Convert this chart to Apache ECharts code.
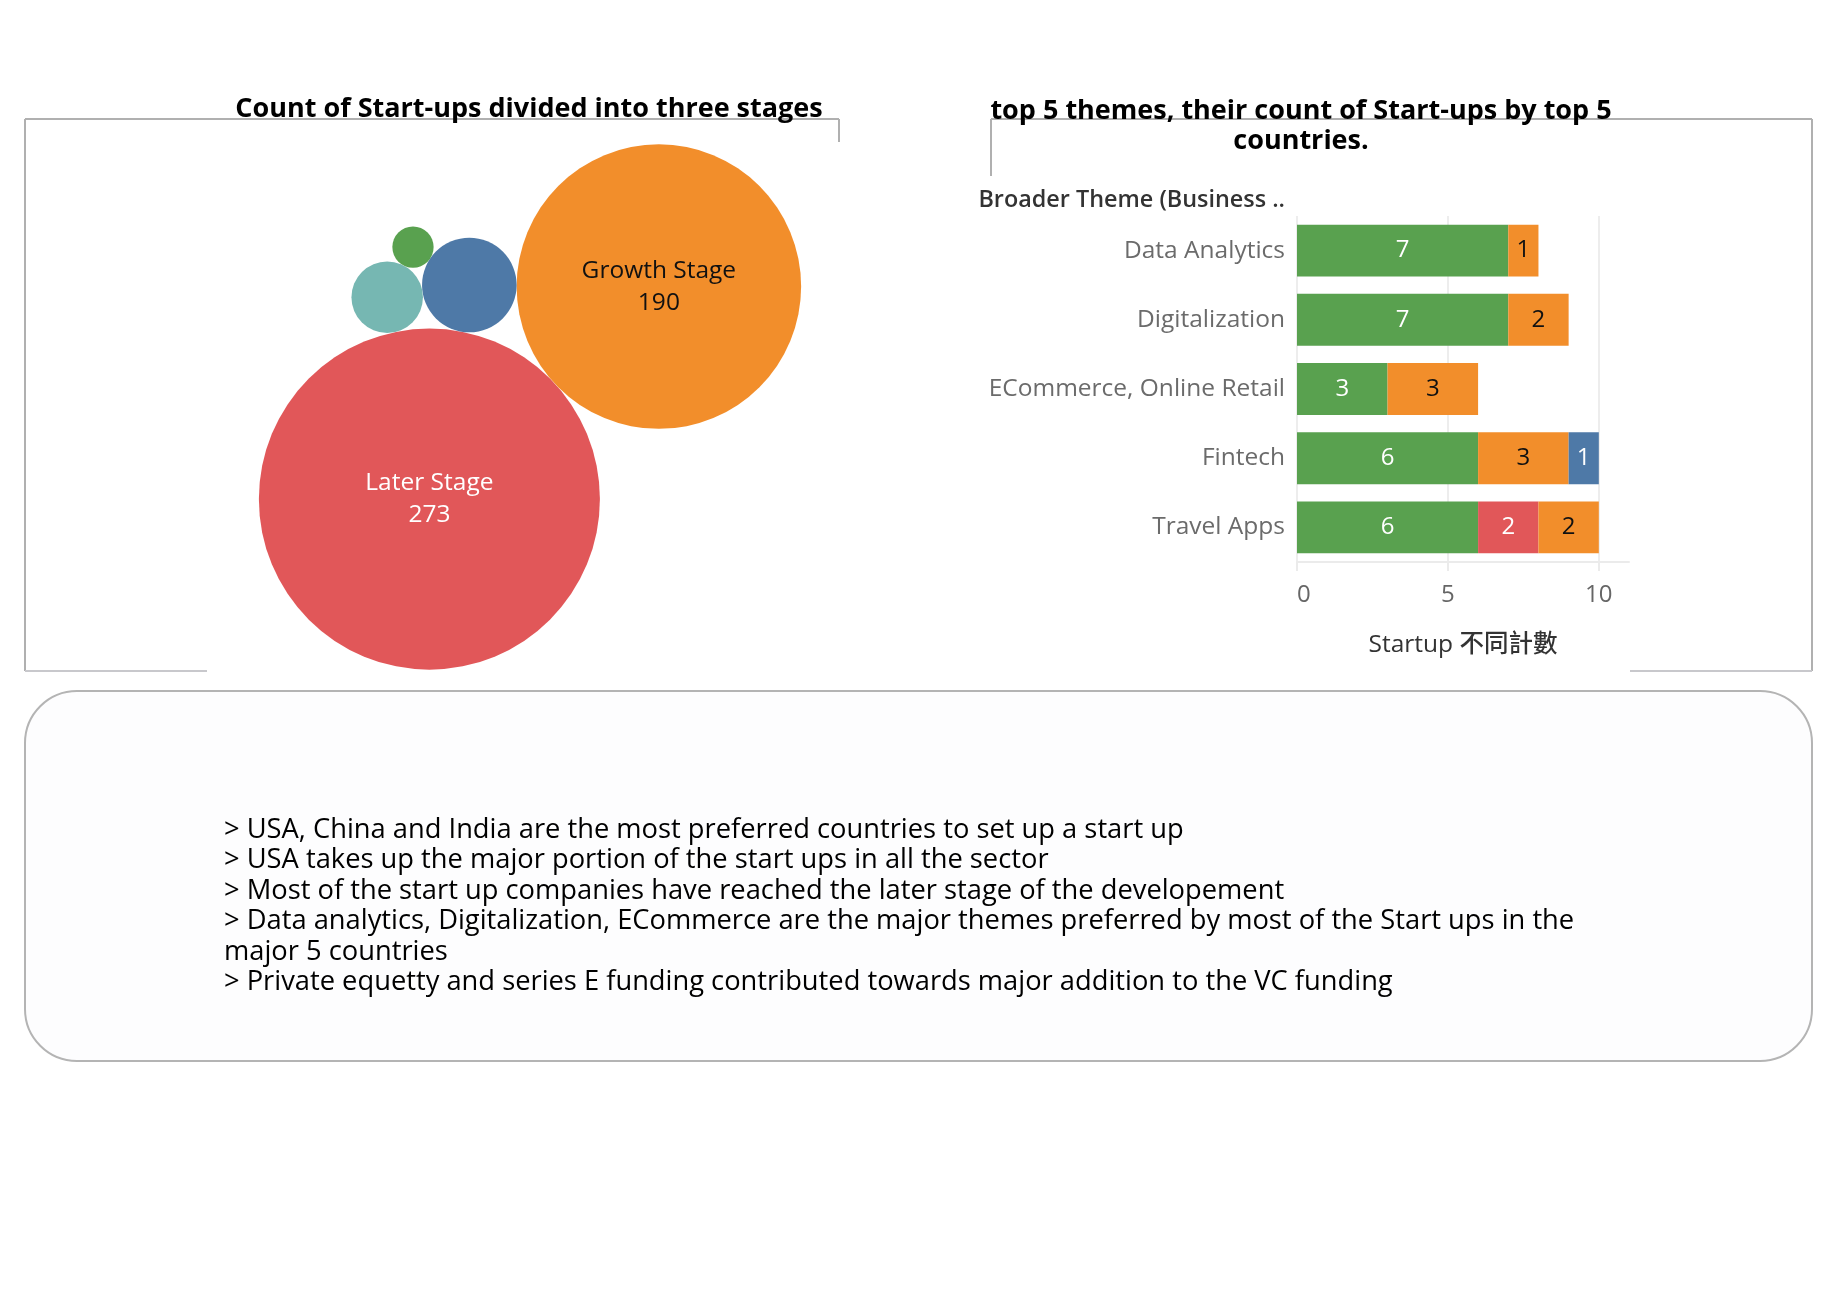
<!DOCTYPE html>
<html>
<head>
<meta charset="utf-8">
<script src="https://cdn.jsdelivr.net/npm/echarts@6/dist/echarts.min.js"></script>
<style>
html,body{margin:0;padding:0;background:#fff;}
#main{width:1846px;height:1290px;}
</style>
</head>
<body>
<div id="main"></div>
<script>
// ---------- DATA ----------
const STAGE_NAMES = ['Later Stage', 'Growth Stage', 'Early Stage', 'Seed Stage', 'Other'];
const STAGE_COUNTS = [273, 190, 21, 12, 4];

const THEMES = ['Data Analytics', 'Digitalization', 'ECommerce, Online Retail', 'Fintech', 'Travel Apps'];
const COUNTRY_NAMES = ['USA', 'India', 'China', 'UK'];
const COUNTRY_GREEN = [7, 7, 3, 6, 6];
const COUNTRY_RED = [0, 0, 0, 0, 2];
const COUNTRY_ORANGE = [1, 2, 3, 3, 2];
const COUNTRY_BLUE = [0, 0, 0, 1, 0];
const X_TICKS = [0, 5, 10];

const NOTES = [
  '> USA, China and India are the most preferred countries to set up a start up',
  '> USA takes up the major portion of the start ups in all the sector',
  '> Most of the start up companies have reached the later stage of the developement',
  '> Data analytics, Digitalization, ECommerce are the major themes preferred by most of the Start ups in the',
  'major 5 countries',
  '> Private equetty and series E funding contributed towards major addition to the VC funding'
];

// ---------- STYLE ----------
const STAGE_COLORS = ['#e15759', '#f28e2b', '#4e79a7', '#76b7b2', '#59a14f'];
const COUNTRY_COLORS = ['#59a14f', '#e15759', '#f28e2b', '#4e79a7'];
const COUNTRY_LABEL_COLORS = ['#ffffff', '#ffffff', '#111111', '#ffffff'];
const FONT = '"Open Sans", "Noto Sans", sans-serif';
const CJK_FONT = '"Open Sans", "Noto Sans CJK TC", sans-serif';

// ---------- packed bubble layout (computed from values) ----------
const BUBBLE_SCALE = 10.32;            // px per sqrt(count)
const radii = STAGE_COUNTS.map(v => BUBBLE_SCALE * Math.sqrt(v));
const FIRST_ANGLE = -42.8 * Math.PI / 180;
const PACK_PAIRS = [null, null, [0, 1], [0, 2], [3, 2]];

function tangent(a, b, r) {
  const dx = b.x - a.x, dy = b.y - a.y, d = Math.hypot(dx, dy);
  const ra = a.r + r, rb = b.r + r;
  const along = (ra * ra - rb * rb + d * d) / (2 * d);
  const h = Math.sqrt(Math.max(0, ra * ra - along * along));
  const ux = dx / d, uy = dy / d;
  return { x: a.x + ux * along + uy * h, y: a.y + uy * along - ux * h, r: r };
}
const circles = [];
circles.push({ x: 0, y: 0, r: radii[0] });
circles.push({
  x: Math.cos(FIRST_ANGLE) * (radii[0] + radii[1]),
  y: Math.sin(FIRST_ANGLE) * (radii[0] + radii[1]),
  r: radii[1]
});
for (let i = 2; i < radii.length; i++) {
  const p = PACK_PAIRS[i];
  circles.push(tangent(circles[p[0]], circles[p[1]], radii[i]));
}
// centre the cluster in its panel
let minX = Infinity, maxX = -Infinity, minY = Infinity, maxY = -Infinity;
circles.forEach(c => {
  minX = Math.min(minX, c.x - c.r); maxX = Math.max(maxX, c.x + c.r);
  minY = Math.min(minY, c.y - c.r); maxY = Math.max(maxY, c.y + c.r);
});
const CLUSTER_CX = 530, CLUSTER_CY = 407;
const offX = CLUSTER_CX - (minX + maxX) / 2, offY = CLUSTER_CY - (minY + maxY) / 2;

const bubbleData = circles.map((c, i) => ({
  name: STAGE_NAMES[i],
  value: [c.x + offX, c.y + offY, STAGE_COUNTS[i]],
  symbolSize: 2 * c.r,
  itemStyle: { color: STAGE_COLORS[i] },
  label: {
    show: STAGE_COUNTS[i] > 100,
    color: i === 0 ? '#ffffff' : '#111111'
  }
}));

// ---------- bar series ----------
const countrySeriesValues = [COUNTRY_GREEN, COUNTRY_RED, COUNTRY_ORANGE, COUNTRY_BLUE];
const barSeries = countrySeriesValues.map((vals, i) => ({
  type: 'bar',
  name: COUNTRY_NAMES[i],
  xAxisIndex: 1,
  yAxisIndex: 1,
  stack: 'total',
  barCategoryGap: '25%',
  data: vals,
  itemStyle: { color: COUNTRY_COLORS[i] },
  label: {
    show: true,
    position: 'inside',
    color: COUNTRY_LABEL_COLORS[i],
    fontFamily: FONT,
    fontSize: 24,
    formatter: p => (p.value > 0 ? String(p.value) : '')
  },
  emphasis: { disabled: true }
}));

// ---------- graphic helpers ----------
const BORDER = '#b0b0b0';
function line(x1, y1, x2, y2, color, w) {
  return { type: 'line', shape: { x1, y1, x2, y2 }, style: { stroke: color || BORDER, lineWidth: w || 2 }, z: 10 };
}

const chart = echarts.init(document.getElementById('main'), null, { renderer: 'canvas' });
chart.setOption({
  backgroundColor: '#ffffff',
  animation: false,
  grid: [
    { left: 0, top: 0, width: 900, height: 700 },
    { left: 1297, top: 216, width: 332, height: 346 }
  ],
  xAxis: [
    { gridIndex: 0, type: 'value', min: 0, max: 900, show: false },
    {
      gridIndex: 1, type: 'value', min: 0, max: 11, interval: 5,
      axisLine: { show: true, lineStyle: { color: '#ebebeb', width: 2 } },
      axisTick: { show: true, length: 9, lineStyle: { color: '#ebebeb', width: 2 }, customValues: X_TICKS },
      axisLabel: { color: '#666666', fontFamily: FONT, fontSize: 24, margin: 21, customValues: X_TICKS, alignMinLabel: 'left' },
      splitLine: { show: true, lineStyle: { color: '#ededed', width: 2 } },
      name: 'Startup 不同計數',
      nameLocation: 'middle',
      nameGap: 71,
      nameTextStyle: { color: '#333333', fontFamily: CJK_FONT, fontSize: 24.5, fontWeight: 500 }
    }
  ],
  yAxis: [
    { gridIndex: 0, type: 'value', min: 0, max: 700, inverse: true, show: false },
    {
      gridIndex: 1, type: 'category', data: THEMES, inverse: true,
      axisLine: { show: false }, axisTick: { show: false },
      splitLine: { show: false },
      axisLabel: { color: '#6b6b6b', fontFamily: FONT, fontSize: 24.5, margin: 12, padding: [4, 0, 0, 0] }
    }
  ],
  series: [
    {
      type: 'scatter',
      xAxisIndex: 0, yAxisIndex: 0,
      data: bubbleData,
      itemStyle: { opacity: 1 },
      label: {
        position: 'inside',
        fontFamily: FONT,
        fontSize: 24.5,
        lineHeight: 32,
        formatter: p => p.name + '\n' + p.value[2]
      },
      emphasis: { disabled: true },
      z: 2
    }
  ].concat(barSeries),
  graphic: [
    // left panel frame
    line(25, 119, 839, 119), line(25, 119, 25, 671), line(839, 119, 839, 142), line(25, 671, 207, 671, '#c8c8cc'),
    // right panel frame
    line(991, 119, 1812, 119), line(991, 119, 991, 176), line(1812, 119, 1812, 671), line(1630, 671, 1812, 671, '#c8c8cc'),
    // notes panel
    {
      type: 'rect', shape: { x: 25, y: 691, width: 1787, height: 370, r: 52 },
      style: { fill: '#fdfdfe', stroke: '#b4b4b4', lineWidth: 2 }, z: 1
    },
    // titles
    {
      type: 'text', x: 529, y: 109, z: 20,
      style: { text: 'Count of Start-ups divided into three stages', fill: '#000', font: 'bold 27px ' + FONT, align: 'center', verticalAlign: 'middle' }
    },
    {
      type: 'text', x: 1301, y: 126, z: 20,
      style: { text: 'top 5 themes, their count of Start-ups by top 5\ncountries.', fill: '#000', font: 'bold 27px ' + FONT, align: 'center', verticalAlign: 'middle', lineHeight: 30 }
    },
    {
      type: 'text', x: 1285, y: 200, z: 20,
      style: { text: 'Broader Theme (Business ..', fill: '#333', font: '600 23.4px ' + FONT, align: 'right', verticalAlign: 'middle' }
    },
    {
      type: 'text', x: 224, y: 815, z: 20,
      style: { text: NOTES.join('\n'), fill: '#000', font: '27.3px ' + FONT, align: 'left', verticalAlign: 'top', lineHeight: 30.4 }
    }
  ]
});
</script>
</body>
</html>
